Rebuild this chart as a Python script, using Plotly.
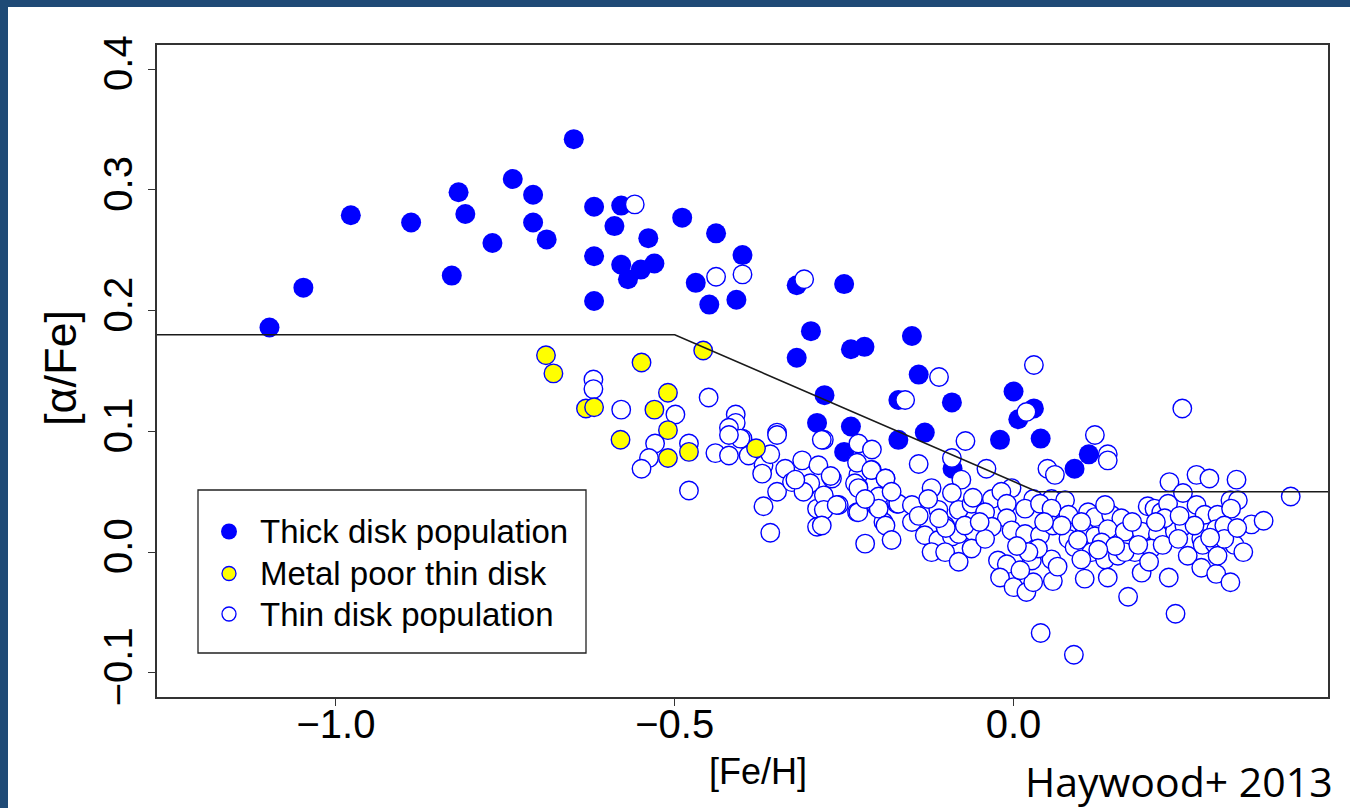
import plotly.graph_objects as go

# Thick disk population: [Fe/H], [alpha/Fe]
THICK_FEH = [-1.098, -1.048, -0.978, -0.889, -0.829, -0.819, -0.809, -0.769, -0.739, -0.709,
             -0.709, -0.689, -0.649, -0.619, -0.619, -0.619, -0.589, -0.579, -0.579, -0.569,
             -0.550, -0.539, -0.530, -0.489, -0.469, -0.449, -0.439, -0.409, -0.400, -0.320,
             -0.320, -0.299, -0.290, -0.279, -0.250, -0.250, -0.240, -0.240, -0.220, -0.170,
             -0.170, -0.150, -0.140, -0.131, -0.091, -0.090, -0.020, 0.000, 0.007, 0.030,
             0.040, 0.090, 0.111]
THICK_ALPHA = [0.186, 0.219, 0.279, 0.273, 0.229, 0.298, 0.280, 0.256, 0.309, 0.296,
               0.273, 0.259, 0.342, 0.286, 0.245, 0.208, 0.270, 0.287, 0.238, 0.226,
               0.234, 0.260, 0.239, 0.277, 0.223, 0.205, 0.264, 0.209, 0.246, 0.221,
               0.161, 0.183, 0.107, 0.130, 0.222, 0.083, 0.168, 0.104, 0.170, 0.126,
               0.093, 0.179, 0.147, 0.099, 0.124, 0.069, 0.093, 0.133, 0.110, 0.119,
               0.094, 0.069, 0.081]

# Metal poor thin disk
MPTHIN_FEH = [-0.690, -0.679, -0.631, -0.619, -0.580, -0.549, -0.530, -0.510, -0.510, -0.510,
              -0.479, -0.458, -0.380]
MPTHIN_ALPHA = [0.163, 0.148, 0.119, 0.120, 0.093, 0.157, 0.118, 0.132, 0.101, 0.078,
                0.083, 0.167, 0.086]

# Thin disk population
THIN_FEH = [
    -0.559, -0.439, -0.400, -0.309, 0.030, -0.110, -0.160, 0.019, 0.249, 0.120,
    0.139, 0.139, -0.091, -0.071, -0.140, 0.050, 0.061, -0.620, -0.620, -0.579,
    -0.499, -0.450, -0.529, -0.479, -0.538, -0.549, -0.479, -0.440, -0.420, -0.410,
    -0.410, -0.420, -0.400, -0.391, -0.369, -0.359, -0.349, -0.337, -0.369, -0.359,
    -0.312, -0.307, -0.288, -0.280, -0.268, -0.290, -0.290, -0.258, -0.349, -0.327,
    -0.300, -0.371, -0.310, -0.322, -0.270, -0.280, -0.280, -0.231, -0.202, -0.192,
    -0.229, -0.209, -0.189, -0.229, -0.172, -0.283, -0.349, -0.403, -0.420, -0.229,
    -0.209, -0.231, -0.210, -0.189, -0.234, -0.077, -0.040, -0.229, -0.199, -0.170,
    -0.121, -0.091, -0.032, -0.003, -0.018, 0.029, 0.056, 0.076, 0.230, 0.250,
    0.270, 0.289, 0.329, 0.320, 0.331, 0.409, -0.229, -0.199, -0.150, -0.111,
    -0.081, -0.062, -0.042, -0.010, -0.010, 0.017, 0.039, 0.056, 0.081, 0.110,
    0.120, 0.144, 0.159, 0.198, 0.208, 0.218, 0.228, 0.270, 0.282, 0.301,
    0.321, -0.189, -0.180, -0.219, -0.131, -0.111, -0.091, -0.081, -0.059, -0.032,
    -0.003, 0.017, 0.039, 0.058, 0.081, 0.105, 0.120, 0.139, 0.164, 0.189,
    0.213, 0.238, 0.252, 0.277, 0.299, 0.311, 0.351, 0.369, -0.121, -0.101,
    -0.081, -0.062, -0.023, -0.010, 0.027, 0.056, 0.090, 0.115, 0.135, 0.154,
    0.179, 0.203, 0.220, 0.257, 0.279, 0.297, 0.326, 0.339, -0.020, 0.000,
    0.019, 0.029, 0.058, 0.105, 0.139, 0.189, 0.229, 0.277, 0.299, 0.320,
    0.169, 0.239, 0.040, 0.089, 0.071, 0.100, 0.130, 0.100, 0.164, 0.184,
    0.267, 0.301, 0.311, 0.036, 0.022, -0.042, -0.072, -0.101, -0.150, -0.126,
    -0.180, -0.219, 0.223, 0.243, 0.135, -0.261, -0.283,
    -0.050, -0.140, -0.100, 0.005, 0.065, 0.095, 0.150, 0.175, 0.200, 0.245,
    0.290, 0.330, 0.010, 0.045, 0.125, 0.210, -0.060, -0.110,
]
THIN_ALPHA = [
    0.288, 0.228, 0.230, 0.226, 0.155, 0.145, 0.126, 0.116, 0.119, 0.097,
    0.081, 0.076, 0.078, 0.092, 0.073, 0.069, 0.064, 0.143, 0.135, 0.118,
    0.114, 0.128, 0.090, 0.090, 0.078, 0.069, 0.051, 0.082, 0.080, 0.114,
    0.107, 0.103, 0.094, 0.080, 0.072, 0.081, 0.099, 0.069, 0.038, 0.016,
    0.076, 0.053, 0.072, 0.093, 0.061, 0.036, 0.021, 0.039, 0.050, 0.058,
    0.057, 0.065, 0.050, 0.060, 0.063, 0.047, 0.035, 0.033, 0.038, 0.025,
    0.064, 0.068, 0.061, 0.054, 0.040, 0.093, 0.097, 0.094, 0.097, 0.090,
    0.085, 0.074, 0.068, 0.061, 0.057, 0.060, 0.069, 0.053, 0.046, 0.040,
    0.053, 0.049, 0.044, 0.053, 0.050, 0.044, 0.044, 0.043, 0.058, 0.049,
    0.064, 0.061, 0.060, 0.043, 0.043, 0.046, 0.033, 0.036, 0.025, 0.035,
    0.035, 0.040, 0.033, 0.040, 0.028, 0.036, 0.040, 0.036, 0.031, 0.033,
    0.029, 0.031, 0.028, 0.038, 0.036, 0.033, 0.040, 0.039, 0.031, 0.031,
    0.036, 0.022, 0.010, 0.007, 0.014, 0.010, 0.013, 0.015, 0.017, 0.021,
    0.018, 0.015, 0.014, 0.022, 0.011, 0.017, 0.013, 0.019, 0.017, 0.017,
    0.015, 0.017, 0.022, 0.011, 0.019, 0.022, 0.023, 0.026, 0.000, 0.000,
    -0.008, 0.003, -0.007, -0.010, -0.007, -0.006, 0.004, 0.000, -0.006, -0.003,
    0.000, 0.003, 0.006, -0.003, 0.006, 0.007, 0.006, 0.000, -0.021, -0.029,
    -0.033, -0.025, -0.024, -0.022, -0.021, -0.017, -0.021, -0.013, -0.018, -0.025,
    -0.037, -0.051, -0.067, -0.085, 0.022, 0.025, 0.008, -0.006, 0.000, 0.006,
    0.022, -0.003, 0.011, 0.003, 0.000, 0.011, 0.022, 0.022, 0.039, 0.044,
    0.050, 0.044, 0.028, 0.011, 0.039, 0.039, 0.022,
    0.025, 0.030, 0.020, 0.005, -0.012, 0.010, 0.005, 0.025, -0.008, 0.030,
    0.012, 0.020, -0.015, 0.025, 0.002, 0.025, 0.045, 0.028,
]

# Separation criterion between the sequences
CUT_FEH = [-1.3, -0.5, 0.035, 0.5]
CUT_ALPHA = [0.18, 0.18, 0.05, 0.05]

LEGEND_LABELS = ["Thick disk population", "Metal poor thin disk", "Thin disk population"]

BLUE = "#0000ff"
YELLOW = "#ffff00"
FONT = "Liberation Sans, Arial, sans-serif"

fig = go.Figure()

fig.add_trace(go.Scatter(
    x=THICK_FEH, y=THICK_ALPHA, mode="markers", name=LEGEND_LABELS[0],
    marker=dict(size=20, color=BLUE, line=dict(width=0)),
))
fig.add_trace(go.Scatter(
    x=THIN_FEH, y=THIN_ALPHA, mode="markers", name=LEGEND_LABELS[2],
    marker=dict(size=18.5, color="white", line=dict(width=1.4, color=BLUE)),
))
fig.add_trace(go.Scatter(
    x=MPTHIN_FEH, y=MPTHIN_ALPHA, mode="markers", name=LEGEND_LABELS[1],
    marker=dict(size=18.5, color=YELLOW, line=dict(width=1.4, color=BLUE)),
))
fig.add_trace(go.Scatter(
    x=CUT_FEH, y=CUT_ALPHA, mode="lines", hoverinfo="skip",
    line=dict(color="#1a1a1a", width=1.6),
))

L, R, T, B = 157, 22, 45, 111
W, H = 1350, 808
pw, ph = W - L - R, H - T - B


def px_x(p):
    return (p - L) / pw


def px_y(p):
    return (H - B - p) / ph


shapes = [
    # white slide panel inside the dark frame
    dict(type="rect", xref="paper", yref="paper", layer="below",
         x0=px_x(8), x1=px_x(W + 20), y0=px_y(H + 20), y1=px_y(7),
         fillcolor="white", line=dict(width=0)),
    # legend box
    dict(type="rect", xref="paper", yref="paper", layer="above",
         x0=px_x(198), x1=px_x(586), y0=px_y(653), y1=px_y(490),
         fillcolor="white", line=dict(color="#222", width=1.3)),
]

# legend keys: (fill, outline width, diameter) per row
key_rows_y = [531.5, 573.5, 614]
key_style = [(BLUE, 0, 16), (YELLOW, 1.3, 14), ("white", 1.3, 14)]
key_cx = 229
for cy, (fill, lw, d) in zip(key_rows_y, key_style):
    r = d / 2
    shapes.append(dict(
        type="circle", xref="paper", yref="paper", layer="above",
        x0=px_x(key_cx - r), x1=px_x(key_cx + r), y0=px_y(cy + r), y1=px_y(cy - r),
        fillcolor=fill, line=dict(color=BLUE, width=lw),
    ))

annotations = [
    dict(text=lab, xref="paper", yref="paper", x=px_x(258), y=px_y(cy),
         xanchor="left", yanchor="middle", showarrow=False,
         font=dict(family=FONT, size=33, color="black"))
    for lab, cy in zip(LEGEND_LABELS, key_rows_y)
]
annotations += [
    dict(text="[Fe/H]", xref="paper", yref="paper", x=px_x(758), y=px_y(772),
         xanchor="center", yanchor="middle", showarrow=False,
         font=dict(family=FONT, size=36, color="black")),
    dict(text="[α/Fe]", xref="paper", yref="paper", x=px_x(60), y=px_y(368),
         xanchor="center", yanchor="middle", showarrow=False, textangle=-90,
         font=dict(family=FONT, size=45, color="black")),
    dict(text="Haywood+ 2013", xref="paper", yref="paper",
         x=px_x(1335), y=px_y(781), xanchor="right", yanchor="middle",
         showarrow=False, font=dict(family="Open Sans, sans-serif", size=41, color="black")),
]

axis_common = dict(
    showgrid=False, zeroline=False, showline=True, mirror=True,
    linecolor="#333", linewidth=1.5, ticks="outside", ticklen=7,
    tickcolor="#333", tickwidth=1.3,
    tickfont=dict(family=FONT, size=40, color="black"),
)

fig.update_layout(
    width=W, height=H,
    margin=dict(l=L, r=R, t=T, b=B, autoexpand=False),
    paper_bgcolor="#1f4a76",
    plot_bgcolor="white",
    shapes=shapes,
    annotations=annotations,
    showlegend=False,
    xaxis=dict(range=[-1.264, 0.464], tickvals=[-1.0, -0.5, 0.0], tickformat=".1f",
               ticklabelstandoff=-16, **axis_common),
    yaxis=dict(range=[-0.12, 0.42], tickvals=[-0.1, 0.0, 0.1, 0.2, 0.3, 0.4], tickformat=".1f",
               tickangle=-90, **axis_common),
)

fig.write_html("out.html")
